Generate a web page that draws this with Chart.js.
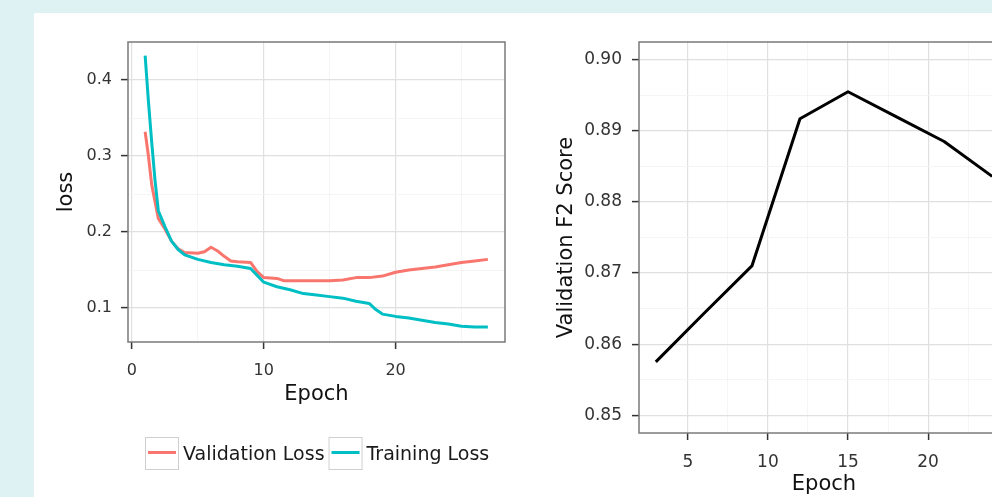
<!DOCTYPE html>
<html lang="en">
<head>
<meta charset="UTF-8">
<title>Loss and validation F2 by epoch</title>
<style>
  body { margin: 0; background: #dff2f3; overflow: hidden; }
  .sheet { position: absolute; left: 34px; top: 13px; right: 0; bottom: 0; background: #fff; overflow: hidden; }
  .box { position: absolute; top: 0; height: 484px; }
  #lossBox { left: 0; width: 506px; }
  #f2Box { left: 506px; width: 480px; }
</style>
<script src="https://cdn.jsdelivr.net/npm/chart.js"></script>
</head>
<body>
<div class="sheet">
  <div class="box" id="lossBox"><canvas id="lossChart"></canvas></div>
  <div class="box" id="f2Box"><canvas id="f2Chart"></canvas></div>
</div>
<script>
// left panel: loss per epoch
const trainEpochs = [1, 1.25, 1.5, 1.75, 2, 2.5, 3, 3.5, 4, 5, 6, 7, 8, 9, 9.5, 10, 11, 12, 13, 14, 15, 16, 17, 18, 18.5, 19, 20, 21, 22, 23, 24, 25, 26, 27];
const trainLoss = [0.432, 0.372, 0.318, 0.268, 0.228, 0.207, 0.188, 0.177, 0.170, 0.164, 0.160, 0.157, 0.155, 0.152, 0.143, 0.134, 0.128, 0.124, 0.119, 0.117, 0.115, 0.113, 0.109, 0.106, 0.098, 0.092, 0.089, 0.087, 0.084, 0.081, 0.079, 0.076, 0.075, 0.075];
const valEpochs = [1, 1.25, 1.5, 2, 2.5, 3, 3.5, 4, 5, 5.5, 6, 6.5, 7, 7.5, 8, 9, 9.5, 10, 11, 11.5, 12, 13, 14, 15, 16, 17, 18, 19, 20, 21, 22, 23, 24, 25, 26, 27];
const valLoss = [0.332, 0.300, 0.262, 0.218, 0.204, 0.188, 0.178, 0.173, 0.172, 0.174, 0.180, 0.175, 0.168, 0.162, 0.161, 0.160, 0.148, 0.140, 0.139, 0.136, 0.136, 0.136, 0.136, 0.136, 0.137, 0.140, 0.140, 0.142, 0.147, 0.150, 0.152, 0.154, 0.157, 0.160, 0.162, 0.164];

// right panel: validation F2 score
const f2Epochs = [3, 6, 9, 12, 15, 18, 21, 24];
const f2Score = [0.8575, 0.8643, 0.871, 0.8917, 0.8955, 0.892, 0.8885, 0.8836];

// ticks
const lossXTicks = [0, 10, 20];
const lossXLabels = ['0', '10', '20'];
const lossXMinor = [5, 15, 25];
const lossYTicks = [0.1, 0.2, 0.3, 0.4];
const lossYLabels = ['0.1', '0.2', '0.3', '0.4'];
const lossYMinor = [0.15, 0.25, 0.35];
const f2XTicks = [5, 10, 15, 20, 25];
const f2XLabels = ['5', '10', '15', '20', '25'];
const f2XMinor = [7.5, 12.5, 17.5, 22.5];
const f2YTicks = [0.85, 0.86, 0.87, 0.88, 0.89, 0.90];
const f2YLabels = ['0.85', '0.86', '0.87', '0.88', '0.89', '0.90'];
const f2YMinor = [0.855, 0.865, 0.875, 0.885, 0.895];

const FONT = '"DejaVu Sans", sans-serif';
const RED = '#F8766D', CYAN = '#00BFC4';

function toPoints(xs, ys) {
  return xs.map((x, i) => ({ x: x, y: ys[i] }));
}

// ggplot style axis: majors get a label and a tick mark, minors only a faint grid line
function ggAxis(major, labels, minor, o) {
  const idx = v => major.findIndex(m => Math.abs(m - v) < 1e-9);
  const isMajor = c => c.tick && idx(c.tick.value) >= 0;
  return {
    type: 'linear',
    min: o.min,
    max: o.max,
    afterBuildTicks: s => {
      s.ticks = major.concat(minor).sort((a, b) => a - b).map(v => ({ value: v }));
    },
    afterFit: o.fit,
    grid: {
      color: c => isMajor(c) ? '#e0e0e0' : '#f2f2f2',
      lineWidth: c => isMajor(c) ? 1.2 : 0.8,
      tickColor: c => isMajor(c) ? '#333' : 'rgba(0,0,0,0)',
      tickLength: 7,
      tickWidth: 1.5
    },
    border: { display: false },
    ticks: {
      autoSkip: false,
      maxRotation: 0,
      color: '#333',
      padding: o.tickPad,
      font: { family: FONT, size: o.tickSize },
      callback: v => { const i = idx(v); return i < 0 ? '' : labels[i]; }
    },
    title: {
      display: true,
      text: o.title,
      color: '#111',
      font: { family: FONT, size: 21 },
      padding: o.titlePad
    }
  };
}

const panelBorder = {
  id: 'panelBorder',
  afterDatasetsDraw(chart) {
    const a = chart.chartArea, ctx = chart.ctx;
    ctx.save();
    ctx.strokeStyle = '#7a7a7a';
    ctx.lineWidth = 1.5;
    ctx.strokeRect(a.left, a.top, a.right - a.left, a.bottom - a.top);
    ctx.restore();
  }
};

// legend with boxed keys under the loss panel
const keyLegend = {
  id: 'keyLegend',
  afterDraw(chart, args, opts) {
    if (!opts.show) return;
    const ctx = chart.ctx;
    let x = chart.chartArea.left + opts.offsetX;
    const y = opts.y;
    ctx.save();
    ctx.font = '19px ' + FONT;
    opts.order.forEach(i => {
      const ds = chart.data.datasets[i];
      ctx.fillStyle = '#fff';
      ctx.fillRect(x, y - 16.5, 34, 33);
      ctx.strokeStyle = '#cfcfcf';
      ctx.lineWidth = 1;
      ctx.strokeRect(x + 0.5, y - 16, 33, 32);
      ctx.strokeStyle = ds.borderColor;
      ctx.lineWidth = 3;
      ctx.beginPath();
      ctx.moveTo(x + 3, y - 1);
      ctx.lineTo(x + 31, y - 1);
      ctx.stroke();
      ctx.fillStyle = '#1a1a1a';
      ctx.textAlign = 'left';
      ctx.textBaseline = 'middle';
      ctx.fillText(ds.label, x + 38, y + 1.5);
      x += 38 + ctx.measureText(ds.label).width + 4;
    });
    ctx.restore();
  }
};

new Chart(document.getElementById('lossChart'), {
  type: 'line',
  data: {
    datasets: [
      { label: 'Validation Loss', data: toPoints(valEpochs, valLoss), borderColor: RED, order: 1 },
      { label: 'Training Loss', data: toPoints(trainEpochs, trainLoss), borderColor: CYAN, order: 0 }
    ]
  },
  options: {
    responsive: true,
    maintainAspectRatio: false,
    animation: false,
    layout: { padding: { left: 0, top: 29, right: 35, bottom: 80 } },
    elements: {
      line: { borderWidth: 3, tension: 0, fill: false, borderJoinStyle: 'round' },
      point: { radius: 0 }
    },
    plugins: {
      legend: { display: false },
      tooltip: { enabled: false },
      keyLegend: { show: true, offsetX: 17, y: 440.5, order: [0, 1] }
    },
    scales: {
      x: ggAxis(lossXTicks, lossXLabels, lossXMinor, {
        min: -0.3, max: 28.3, title: 'Epoch', tickSize: 16, tickPad: 12,
        titlePad: { top: 0, bottom: 10 }, fit: s => { s.height = 75; s.paddingLeft = 0; s.paddingRight = 0; }
      }),
      y: ggAxis(lossYTicks, lossYLabels, lossYMinor, {
        min: 0.0553, max: 0.45, title: 'loss', tickSize: 16, tickPad: 9,
        titlePad: { top: 20, bottom: 0 }, fit: s => { s.width = 94; }
      })
    }
  },
  plugins: [panelBorder, keyLegend]
});

new Chart(document.getElementById('f2Chart'), {
  type: 'line',
  data: {
    datasets: [
      { label: 'Validation F2 Score', data: toPoints(f2Epochs, f2Score), borderColor: '#000' }
    ]
  },
  options: {
    responsive: true,
    maintainAspectRatio: false,
    animation: false,
    layout: { padding: { left: 0, top: 29, right: 11, bottom: 0 } },
    elements: {
      line: { borderWidth: 3, tension: 0, fill: false, borderJoinStyle: 'round' },
      point: { radius: 0 }
    },
    plugins: {
      legend: { display: false },
      tooltip: { enabled: false }
    },
    scales: {
      x: ggAxis(f2XTicks, f2XLabels, f2XMinor, {
        min: 1.95, max: 25.05, title: 'Epoch', tickSize: 17, tickPad: 12,
        titlePad: { top: 0, bottom: 0 }, fit: s => { s.height = 64; s.paddingLeft = 0; s.paddingRight = 0; }
      }),
      y: ggAxis(f2YTicks, f2YLabels, f2YMinor, {
        min: 0.8475, max: 0.9025, title: 'Validation F2 Score', tickSize: 17, tickPad: 10,
        titlePad: { top: 14, bottom: 0 }, fit: s => { s.width = 99; }
      })
    }
  },
  plugins: [panelBorder]
});
</script>
</body>
</html>
